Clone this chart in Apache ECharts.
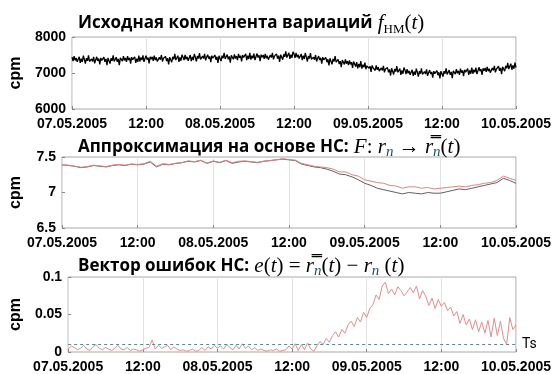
<!DOCTYPE html>
<html>
<head>
<meta charset="utf-8">
<script src="https://cdn.jsdelivr.net/npm/echarts@6/dist/echarts.min.js"></script>
<style>
  html, body { margin: 0; padding: 0; background: #fff; }
  #chart { width: 554px; height: 374px; }
</style>
</head>
<body>
<div id="chart"></div>
<script>
// x axis runs in hours from 07.05.2005 00:00 to 10.05.2005 00:00
const tickLabels = ["07.05.2005", "12:00", "08.05.2005", "12:00", "09.05.2005", "12:00", "10.05.2005"];

// panel 1: source variation component, cpm, one sample every 10 min
const sourceStepH = 1 / 6;
const sourceVariation = [
  7440,7330,7470,7350,7420,7310, 7330,7450,7280,7400,7310,7480, 7380,7260,7410,7340,7490,7320,
  7280,7390,7320,7450,7270,7360, 7450,7340,7400,7240,7420,7350, 7360,7440,7310,7390,7220,7420,
  7380,7260,7410,7340,7490,7320, 7360,7440,7310,7390,7220,7420, 7440,7330,7470,7350,7420,7310,
  7470,7360,7420,7260,7440,7370, 7330,7450,7280,7400,7310,7480, 7320,7430,7360,7490,7310,7400,
  7480,7370,7430,7270,7450,7380, 7450,7340,7480,7360,7430,7320, 7330,7440,7370,7500,7320,7410,
  7380,7460,7330,7410,7240,7440, 7420,7300,7450,7380,7530,7360, 7360,7480,7310,7430,7340,7510,
  7470,7360,7500,7380,7450,7340, 7380,7500,7330,7450,7360,7530, 7440,7320,7470,7400,7550,7380,
  7360,7470,7400,7530,7350,7440, 7510,7400,7460,7300,7480,7410, 7420,7500,7370,7450,7280,7480,
  7450,7330,7480,7410,7560,7390, 7430,7510,7380,7460,7290,7490, 7490,7380,7520,7400,7470,7360,
  7530,7420,7480,7320,7500,7430, 7410,7530,7360,7480,7390,7560, 7370,7480,7410,7540,7360,7450,
  7540,7430,7490,7330,7510,7440, 7500,7390,7530,7410,7480,7370, 7390,7500,7430,7560,7380,7470,
  7450,7530,7400,7480,7310,7510, 7490,7370,7520,7450,7600,7430, 7440,7560,7390,7510,7420,7590,
  7530,7420,7560,7440,7510,7400, 7410,7530,7360,7480,7390,7560, 7440,7320,7470,7400,7550,7380,
  7330,7440,7370,7500,7320,7410, 7470,7360,7420,7260,7440,7370, 7350,7430,7300,7380,7210,7410,
  7360,7240,7390,7320,7470,7300, 7300,7380,7250,7330,7160,7360, 7350,7240,7380,7260,7330,7220,
  7350,7240,7300,7140,7320,7250, 7180,7300,7130,7250,7160,7330, 7120,7230,7160,7290,7110,7200,
  7240,7130,7190,7030,7210,7140, 7180,7070,7210,7090,7160,7050, 7030,7140,7070,7200,7020,7110,
  7070,7150,7020,7100,6930,7130, 7080,6960,7110,7040,7190,7020, 7000,7120,6950,7070,6980,7150,
  7080,6970,7110,6990,7060,6950, 6970,7090,6920,7040,6950,7120, 7020,6900,7050,6980,7130,6960,
  6930,7040,6970,7100,6920,7010, 7080,6970,7030,6870,7050,6980, 6990,7070,6940,7020,6850,7050,
  7020,6900,7050,6980,7130,6960, 7000,7080,6950,7030,6860,7060, 7080,6970,7110,6990,7060,6950,
  7120,7010,7070,6910,7090,7020, 7000,7120,6950,7070,6980,7150, 6980,7090,7020,7150,6970,7060,
  7160,7050,7110,6950,7130,7060, 7140,7030,7170,7050,7120,7010, 7030,7140,7070,7200,7020,7110,
  7110,7190,7060,7140,6970,7170, 7170,7050,7200,7130,7280,7110, 7140,7260,7090,7210,7120,7290,
  7150
];

// panel 2: measured (smoothed) series and NN approximation, thousands of cpm, hourly
const approxStepH = 1;
const measuredSmooth = [
  7.39,7.38,7.37,7.35,7.36,7.38,7.37,7.36,7.38,7.39,7.38,7.40,
  7.39,7.40,7.43,7.36,7.40,7.39,7.41,7.42,7.44,7.43,7.45,7.41,
  7.44,7.42,7.45,7.41,7.43,7.44,7.43,7.42,7.44,7.45,7.46,7.47,
  7.46,7.45,7.40,7.38,7.36,7.35,7.33,7.30,7.26,7.25,7.22,7.18,
  7.13,7.10,7.06,7.04,7.02,7.00,6.98,7.00,6.99,6.98,7.00,6.99,
  6.99,7.01,7.03,7.05,7.04,7.06,7.08,7.10,7.12,7.14,7.20,7.17,
  7.13
];
const nnApprox = [
  7.39,7.385,7.37,7.355,7.365,7.385,7.375,7.365,7.385,7.395,7.385,7.40,
  7.395,7.405,7.44,7.37,7.405,7.395,7.41,7.42,7.445,7.435,7.455,7.415,
  7.445,7.425,7.455,7.42,7.44,7.445,7.435,7.425,7.44,7.45,7.46,7.475,
  7.465,7.455,7.41,7.39,7.37,7.36,7.35,7.33,7.29,7.29,7.25,7.23,
  7.18,7.16,7.14,7.13,7.10,7.09,7.06,7.08,7.08,7.06,7.07,7.05,
  7.06,7.07,7.08,7.09,7.08,7.10,7.11,7.13,7.14,7.17,7.23,7.20,
  7.17
];

// panel 3: NN error vector, every 30 min, and the threshold Ts
const errorStepH = 0.5;
const errorVector = [
  0.004,0.008,0.006,0.003,0.005,0.009,0.004,0.002,
  0.007,0.010,0.005,0.003,0.006,0.004,0.002,0.005,
  0.009,0.004,0.003,0.006,0.002,0.004,0.003,0.001,
  0.003,0.005,0.006,0.016,0.004,0.009,0.005,0.007,
  0.009,0.003,0.007,0.004,0.002,0.003,0.001,0.002,
  0.004,0.001,0.002,0.006,0.002,0.007,0.004,0.009,
  0.005,0.008,0.004,0.010,0.006,0.003,0.009,0.004,
  0.011,0.005,0.008,0.003,0.006,0.002,0.004,0.002,
  0.001,0.003,0.002,0.004,0.001,0.002,0.003,0.008,
  0.004,0.011,0.002,0.010,0.003,0.012,0.004,0.001,
  0.008,0.014,0.010,0.018,0.013,0.022,0.027,0.020,
  0.030,0.025,0.036,0.041,0.034,0.046,0.040,0.053,
  0.046,0.058,0.063,0.076,0.070,0.088,0.093,0.078,
  0.084,0.076,0.087,0.082,0.075,0.080,0.086,0.079,
  0.088,0.071,0.082,0.074,0.062,0.072,0.058,0.070,
  0.061,0.066,0.055,0.060,0.048,0.054,0.038,0.050,
  0.036,0.044,0.030,0.043,0.027,0.040,0.025,0.042,
  0.020,0.045,0.022,0.041,0.018,0.010,0.046,0.030,
  0.036
];
const tsLevel = 0.013;

const titleTexts = [
  "{t|Исходная компонента вариаций}{u| }{m|f}{s|НМ}{u|(}{m|t}{u|)}",
  "{t|Аппроксимация на основе НС:}{u| }{m|F}{u|: }{m|r}{si|n}{u| → }{m|r\u033F}{si|n}{u|(}{m|t}{u|)}",
  "{t|Вектор ошибок НС:}{u| }{m|e}{u|(}{m|t}{u|) = }{m|r\u033F}{si|n}{u|(}{m|t}{u|) − }{m|r}{si|n}{u| (}{m|t}{u|)}"
];

const tickFont = "'Liberation Sans', Arial, sans-serif";
const frameColor = "#a8a8a8";
const gridColor = "#e2e2e2";

const grids = [
  { left: 59, top: 37, width: 457, height: 72 },
  { left: 59, top: 157, width: 457, height: 71 },
  { left: 59, top: 277, width: 457, height: 75 },
];
const titleTops = [10, 134, 253];

const richStyles = {
  t: { fontFamily: "'Open Sans'", fontWeight: "bold", fontSize: 17, color: "#000", lineHeight: 26, verticalAlign: "middle" },
  m: { fontFamily: "'Liberation Serif', serif", fontStyle: "italic", fontWeight: "normal", fontSize: 21, color: "#000", lineHeight: 26, verticalAlign: "middle" },
  u: { fontFamily: "'Liberation Serif', serif", fontWeight: "normal", fontSize: 21, color: "#000", lineHeight: 26, verticalAlign: "middle" },
  s: { fontFamily: "'Liberation Serif', serif", fontWeight: "normal", fontSize: 13, color: "#000", lineHeight: 12, verticalAlign: "bottom" },
  si: { fontFamily: "'Liberation Serif', serif", fontStyle: "italic", fontWeight: "normal", fontSize: 15, color: "#1d4f66", lineHeight: 12, verticalAlign: "bottom" },
};

function makeX(i) {
  return {
    type: "value", gridIndex: i, min: 0, max: 72, interval: 12,
    axisLine: { show: false },
    axisTick: { inside: true, length: 3, lineStyle: { color: "#888" } },
    splitLine: { show: true, lineStyle: { color: gridColor, width: 1 } },
    axisLabel: {
      margin: 8, color: "#000", fontFamily: tickFont, fontWeight: "bold", fontSize: 14,
      showMinLabel: true, showMaxLabel: true,
      formatter: (v) => tickLabels[Math.round(v / 12)],
    },
  };
}

function makeY(i, min, max, interval) {
  return {
    type: "value", gridIndex: i, min, max, interval,
    name: "cpm", nameLocation: "middle", nameRotate: 90, nameGap: 38,
    nameTextStyle: { fontFamily: "'Liberation Sans', Arial, sans-serif", fontWeight: "bold", fontSize: 16, color: "#000" },
    axisLine: { show: false },
    axisTick: { inside: true, length: 3, lineStyle: { color: "#888" } },
    splitLine: { show: false },
    axisLabel: {
      margin: 6, color: "#000", fontFamily: tickFont, fontWeight: "bold", fontSize: 14,
      padding: [6, 0, 0, 0],
      formatter: (v) => String(v),
    },
  };
}

const chart = echarts.init(document.getElementById("chart"), null, { renderer: "canvas" });

chart.setOption({
  animation: false,
  backgroundColor: "#fff",
  title: titleTexts.map((text, i) => ({
    text, left: 78, top: titleTops[i], padding: 0,
    textStyle: { rich: richStyles },
  })),
  grid: grids.map((g) => ({ ...g, show: true, borderColor: frameColor, borderWidth: 1, backgroundColor: "#fff" })),
  xAxis: [makeX(0), makeX(1), makeX(2)],
  yAxis: [makeY(0, 6000, 8000, 1000), makeY(1, 6.5, 7.5, 0.5), makeY(2, 0, 0.1, 0.05)],
  series: [
    {
      name: "source", type: "line", xAxisIndex: 0, yAxisIndex: 0,
      showSymbol: false, silent: true,
      lineStyle: { color: "#000", width: 1.3 },
      data: sourceVariation.map((v, i) => [i * sourceStepH, v]),
    },
    {
      name: "measured", type: "line", xAxisIndex: 1, yAxisIndex: 1,
      showSymbol: false, silent: true,
      lineStyle: { color: "#606060", width: 1 },
      data: measuredSmooth.map((v, i) => [i * approxStepH, v]),
    },
    {
      name: "approx", type: "line", xAxisIndex: 1, yAxisIndex: 1,
      showSymbol: false, silent: true,
      lineStyle: { color: "#d98686", width: 1 },
      data: nnApprox.map((v, i) => [i * approxStepH, v]),
    },
    {
      name: "error", type: "line", xAxisIndex: 2, yAxisIndex: 2,
      showSymbol: false, silent: true,
      lineStyle: { color: "#e08e8e", width: 1 },
      data: errorVector.map((v, i) => [i * errorStepH, v]),
      markLine: {
        silent: true, symbol: "none",
        lineStyle: { type: [3, 3], color: "#5f8a8c", width: 1 },
        label: { show: true, position: "end", distance: 6, formatter: "Ts", color: "#000", fontFamily: "Roboto", fontSize: 14 },
        data: [{ yAxis: tsLevel }],
      },
    },
  ],
});
</script>
</body>
</html>
